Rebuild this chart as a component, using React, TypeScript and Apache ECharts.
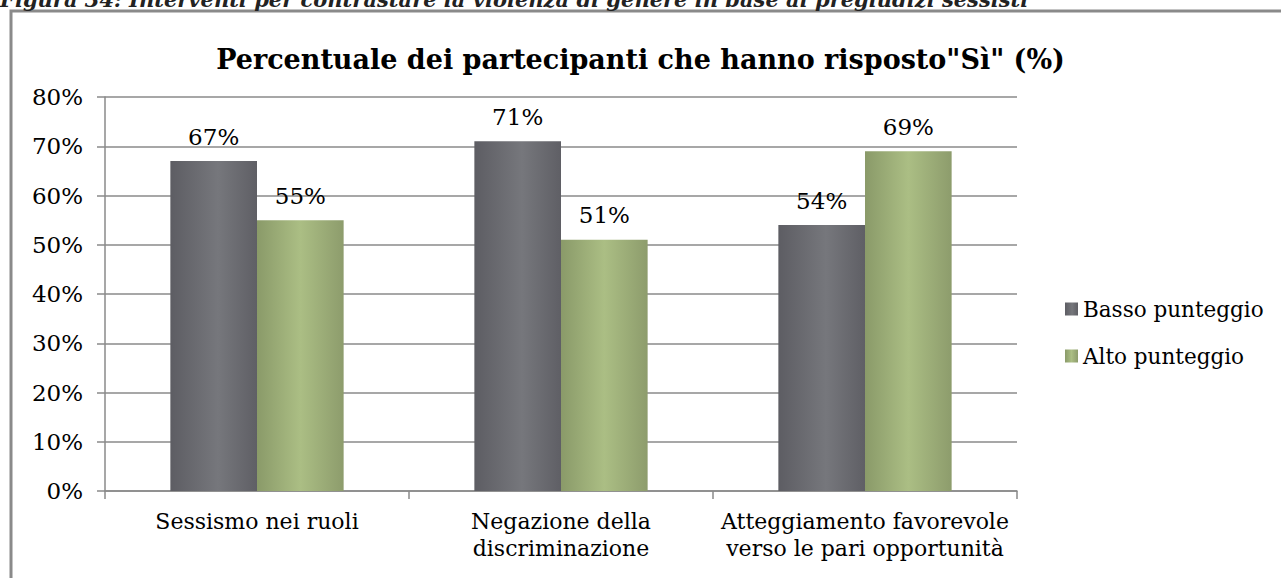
import React, { useEffect, useRef } from "react";
import * as echarts from "echarts";

const categories = [
  "Sessismo nei ruoli",
  "Negazione della\ndiscriminazione",
  "Atteggiamento favorevole\nverso le pari opportunità",
];
const seriesNames = ["Basso punteggio", "Alto punteggio"];
const basso = [67, 71, 54];
const alto = [55, 51, 69];
const yTicks = { min: 0, max: 80, interval: 10 };

const FONT = "DejaVu Serif";

export default function App() {
  const ref = useRef<HTMLDivElement>(null);
  useEffect(() => {
    if (!ref.current) return;
    const chart = echarts.init(ref.current, undefined, { renderer: "svg" });
    const grayGrad = new echarts.graphic.LinearGradient(0, 0, 1, 0, [
      { offset: 0, color: "#5d5d63" },
      { offset: 0.55, color: "#76777c" },
      { offset: 1, color: "#5f5f65" },
    ]);
    const greenGrad = new echarts.graphic.LinearGradient(0, 0, 1, 0, [
      { offset: 0, color: "#8a9a69" },
      { offset: 0.5, color: "#abbe84" },
      { offset: 1, color: "#8d9c6c" },
    ]);
    const labelStyle = {
      show: true,
      position: "top",
      distance: 13,
      formatter: "{c}%",
      fontFamily: FONT,
      fontSize: 23,
      color: "#000",
    };
    chart.setOption({
      animation: false,
      backgroundColor: "#ffffff",
      title: {
        text: 'Percentuale dei partecipanti che hanno risposto"Sì" (%)',
        left: "center",
        top: 41,
        textStyle: { fontFamily: FONT, fontWeight: "bold", fontSize: 27, color: "#000" },
      },
      graphic: [
        {
          type: "rect",
          shape: { x: 11, y: 11, width: 1290, height: 600 },
          style: { fill: "none", stroke: "#8a8a8a", lineWidth: 3 },
          silent: true,
        },
        {
          type: "text",
          left: 0,
          top: -11,
          style: {
            text: "Figura 34: Interventi per contrastare la violenza di genere in base ai pregiudizi sessisti",
            font: `italic bold 21px "${FONT}"`,
            fill: "#222",
          },
        },
      ],
      legend: {
        orient: "vertical",
        left: 1060,
        top: 293,
        itemWidth: 13,
        itemHeight: 13,
        itemGap: 25,
        icon: "rect",
        textStyle: { fontFamily: FONT, fontSize: 21.5, color: "#000" },
        data: seriesNames,
      },
      grid: { left: 105, right: 264, top: 97, bottom: 87, containLabel: false },
      xAxis: {
        type: "category",
        data: categories,
        axisLine: { lineStyle: { color: "#8a8a8a", width: 1.5 } },
        axisTick: { show: true, length: 8, lineStyle: { color: "#8a8a8a", width: 1.5 } },
        axisLabel: {
          fontFamily: FONT,
          fontSize: 22,
          color: "#000",
          margin: 17,
          lineHeight: 27,
          interval: 0,
        },
      },
      yAxis: {
        type: "value",
        min: yTicks.min,
        max: yTicks.max,
        interval: yTicks.interval,
        axisLine: { show: true, lineStyle: { color: "#8a8a8a", width: 1.5 } },
        axisTick: { show: true, length: 8, lineStyle: { color: "#8a8a8a", width: 1.5 } },
        splitLine: { lineStyle: { color: "#8a8a8a", width: 1.5 } },
        axisLabel: {
          formatter: "{value}%",
          fontFamily: FONT,
          fontSize: 23,
          color: "#000",
          margin: 22,
        },
      },
      series: [
        {
          name: seriesNames[0],
          type: "bar",
          data: basso,
          barGap: "0%",
          barCategoryGap: "43%",
          itemStyle: { color: grayGrad },
          label: labelStyle,
        },
        {
          name: seriesNames[1],
          type: "bar",
          data: alto,
          barGap: "0%",
          barCategoryGap: "43%",
          itemStyle: { color: greenGrad },
          label: labelStyle,
        },
      ],
    });
    return () => chart.dispose();
  }, []);
  return (
    <div
      ref={ref}
      style={{ position: "fixed", left: 0, top: 0, width: 1281, height: 578 }}
    />
  );
}
